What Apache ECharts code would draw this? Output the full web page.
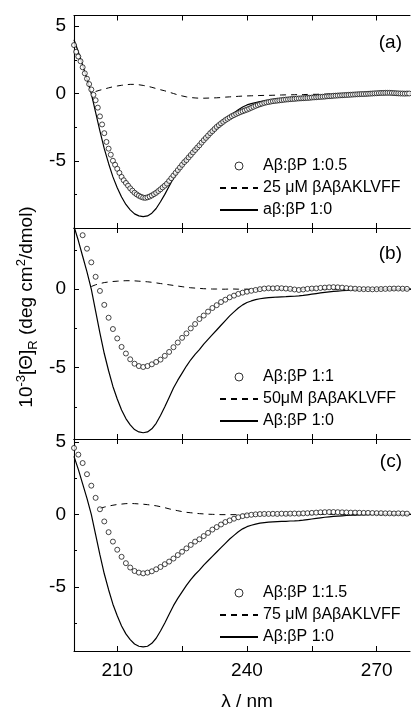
<!DOCTYPE html>
<html><head><meta charset="utf-8">
<script src="https://cdn.jsdelivr.net/npm/echarts@6/dist/echarts.min.js"></script>
<style>html,body{margin:0;padding:0;background:#fff}#c{width:411px;height:710px}</style>
</head><body><div id="c"></div>
<script>
const FONT = '"Liberation Sans", Arial, Helvetica, sans-serif';

// ---------- data ----------
// Panel (a) open circles, 0.5 nm steps starting 200 nm
const circlesAStart = 200, circlesAStep = 0.5;
const circlesA = [3.6,3.1,2.75,2.4,1.95,1.5,1.1,0.7,0.3,-0.1,
 -0.5,-1.05,-1.7,-2.3,-2.95,-3.6,-4.1,-4.55,-5.0,-5.3,
 -5.6,-5.9,-6.2,-6.45,-6.65,-6.85,-7.05,-7.22,-7.38,-7.5,
 -7.6,-7.68,-7.74,-7.76,-7.72,-7.66,-7.58,-7.48,-7.38,-7.25,
 -7.12,-6.98,-6.85,-6.7,-6.5,-6.3,-6.1,-5.9,-5.7,-5.5,
 -5.3,-5.1,-4.95,-4.75,-4.57,-4.38,-4.2,-4.02,-3.85,-3.65,
 -3.47,-3.3,-3.13,-2.95,-2.8,-2.64,-2.48,-2.35,-2.22,-2.1,
 -1.98,-1.88,-1.78,-1.68,-1.6,-1.52,-1.45,-1.38,-1.32,-1.26,
 -1.2,-1.13,-1.06,-0.99,-0.92,-0.86,-0.8,-0.75,-0.7,-0.66,
 -0.63,-0.6,-0.57,-0.55,-0.53,-0.51,-0.49,-0.47,-0.45,-0.44,
 -0.42,-0.41,-0.4,-0.38,-0.37,-0.36,-0.35,-0.34,-0.33,-0.32,
 -0.3,-0.29,-0.28,-0.26,-0.25,-0.24,-0.23,-0.21,-0.2,-0.19,
 -0.17,-0.16,-0.15,-0.14,-0.13,-0.12,-0.11,-0.1,-0.09,-0.08,
 -0.07,-0.06,-0.05,-0.04,-0.04,-0.03,-0.02,-0.01,0,0.01,
 0.02,0.03,0.04,0.04,0.05,0.05,0.05,0.04,0.03,0.02,
 0.01,0,0,-0.01,0,0];

// A-beta alone (solid line), 1 nm steps from 200 nm
const abetaStart = 200;
const abetaAlone = [4.0,3.1,2.1,1.1,0.0,-1.4,-2.8,-4.1,-5.2,-6.2,
 -7.0,-7.7,-8.25,-8.65,-8.95,-9.1,-9.15,-9.1,-8.9,-8.55,
 -8.05,-7.5,-6.9,-6.3,-5.8,-5.35,-4.9,-4.5,-4.15,-3.85,
 -3.5,-3.2,-2.9,-2.6,-2.3,-2.0,-1.7,-1.45,-1.2,-1.0,
 -0.85,-0.75,-0.67,-0.61,-0.57,-0.54,-0.52,-0.5,-0.49,-0.48,
 -0.46,-0.45,-0.43,-0.4,-0.36,-0.32,-0.28,-0.24,-0.2,-0.17,
 -0.14,-0.12,-0.1,-0.08,-0.06,-0.05,-0.04,-0.03,-0.02,-0.01,
 0,0,0.01,0.01,0,0,0,0,0];

// dashed beta-peptide alone curves
const dashedAStart = 205;
const dashedA = [0.15,0.25,0.33,0.42,0.5,0.56,0.61,0.65,0.68,0.68,
 0.65,0.6,0.54,0.46,0.37,0.28,0.2,0.1,0.0,-0.1,
 -0.18,-0.25,-0.3,-0.33,-0.35,-0.35,-0.34,-0.33,-0.32,-0.3,
 -0.27,-0.25,-0.23,-0.21,-0.19,-0.18,-0.17,-0.16,-0.15,-0.14,
 -0.14,-0.13,-0.12,-0.11,-0.1,-0.1,-0.09,-0.08,-0.08,-0.07,
 -0.06,-0.06,-0.05,-0.05,-0.04,-0.04,-0.03,-0.03,-0.02,-0.02,
 -0.01,-0.01,0,0,0,0.01,0.01,0.01,0,0,0,0,0,0];

const circlesBStart = 201;
const circlesB = [3.95,3.44,2.58,1.71,0.79,-0.11,-1.0,-1.82,-2.54,-3.14,
 -3.68,-4.1,-4.47,-4.75,-4.9,-4.96,-4.9,-4.79,-4.64,-4.49,
 -4.25,-4.0,-3.7,-3.4,-3.1,-2.82,-2.5,-2.22,-1.9,-1.68,
 -1.43,-1.2,-1.02,-0.82,-0.67,-0.52,-0.41,-0.3,-0.22,-0.16,
 -0.1,-0.05,0,0.04,0.06,0.05,0.07,0.06,0.04,0.02,
 -0.02,-0.05,-0.02,0.02,0.04,0.05,0.08,0.1,0.12,0.13,
 0.12,0.1,0.07,0.05,0.03,0.01,0,0,-0.01,0,
 0.01,0.02,0.03,0.04,0.04,0.03,0.02];

const dashedBStart = 204;
const dashedB = [0.17,0.28,0.36,0.42,0.46,0.49,0.51,0.53,0.54,0.54,
 0.53,0.51,0.49,0.47,0.44,0.4,0.36,0.32,0.28,0.24,
 0.2,0.16,0.12,0.09,0.07,0.05,0.03,0.02,0.01,0.01,
 0,0,0.01,0.01,0,0,0,-0.01,0,0,
 0,0,0,0,0,0,0,0,0,0,
 0,0,0,0,0,0,0,0,0,0,
 0,0,0,0,0,0,0,0,0,0,
 0,0,0,0,0];

const circlesCStart = 200;
const circlesC = [4.58,4.12,3.54,2.77,1.98,1.14,0.35,-0.49,-1.23,-1.88,
 -2.44,-2.93,-3.37,-3.67,-3.91,-4.02,-4.07,-4.02,-3.93,-3.79,
 -3.63,-3.44,-3.26,-3.05,-2.81,-2.58,-2.35,-2.11,-1.88,-1.72,
 -1.5,-1.28,-1.05,-0.88,-0.7,-0.53,-0.42,-0.3,-0.2,-0.12,
 -0.07,-0.03,0,0.02,0.03,0.03,0.04,0.03,0.05,0.04,
 0.05,0.06,0.05,0.07,0.08,0.1,0.12,0.14,0.15,0.16,
 0.16,0.15,0.14,0.13,0.12,0.12,0.11,0.1,0.1,0.09,
 0.08,0.08,0.07,0.07,0.06,0.07,0.06,0.05];

const dashedCStart = 206;
const dashedC = [0.4,0.5,0.57,0.63,0.68,0.71,0.74,0.75,0.74,0.72,
 0.7,0.67,0.63,0.59,0.53,0.46,0.38,0.31,0.25,0.19,
 0.14,0.11,0.08,0.05,0.03,0.01,0,-0.01,-0.02,-0.02,
 -0.02,-0.02,-0.02,-0.01,-0.01,0,0,0,0,0,
 0,0,0,0,0,0,0,0,0,0,
 0,0,0,0,0,0,0,0,0,0,
 0,0,0,0,0,0,0,0,0,0,
 0,0,0];

// names / labels
const legendA = ['Aβ:βP 1:0.5', '25 μM βAβAKLVFF', 'aβ:βP 1:0'];
const legendB = ['Aβ:βP 1:1', '50μM βAβAKLVFF', 'Aβ:βP 1:0'];
const legendC = ['Aβ:βP 1:1.5', '75 μM βAβAKLVFF', 'Aβ:βP 1:0'];
const panelLabels = ['(a)', '(b)', '(c)'];
const xTicks = [210, 225, 240, 255, 270];
const xTickLabels = [210, 240, 270];
const yMajorTicks = [-10, -5, 0, 5];
const yMinorTicks = [-7.5, -2.5, 2.5];
const yTickLabelsA = [-5, 0, 5];
const yTickLabelsB = [-5, 0];
const yTickLabelsC = [-5, 0, 5];
const yRanges = [[-10, 5.8], [-9.55, 3.9], [-9.43, 5.2]];
const xRange = [200, 277.7];

// ---------- build ----------
function pairs(start, step, arr) { return arr.map((v, i) => [start + i * step, v]); }

const grids = [
  { left: 74, width: 336, top: 15.5, height: 212.5 },
  { left: 74, width: 336, top: 228, height: 211 },
  { left: 74, width: 336, top: 439, height: 212 }
];

const axisLineStyle = { color: '#000', width: 1.1 };
const xAxes = [], yAxes = [];
const yLabelSets = [yTickLabelsA, yTickLabelsB, yTickLabelsC];
for (let g = 0; g < 3; g++) {
  xAxes.push({
    type: 'value', gridIndex: g, min: xRange[0], max: xRange[1], position: 'bottom',
    axisLine: { show: true, onZero: false, lineStyle: axisLineStyle },
    axisTick: { show: true, inside: true, length: 5, customValues: xTicks, lineStyle: { color: '#000' } },
    axisLabel: { show: g === 2, customValues: xTickLabels, fontSize: 19, fontFamily: FONT, color: '#000', margin: 10 },
    splitLine: { show: false }
  });
  xAxes.push({
    type: 'value', gridIndex: g, min: xRange[0], max: xRange[1], position: 'top',
    axisLine: { show: true, onZero: false, lineStyle: axisLineStyle },
    axisTick: { show: true, inside: true, length: 5, customValues: xTicks, lineStyle: { color: '#000' } },
    axisLabel: { show: false }, splitLine: { show: false }
  });
  yAxes.push({
    type: 'value', gridIndex: g, min: yRanges[g][0], max: yRanges[g][1], position: 'left',
    axisLine: { show: true, onZero: false, lineStyle: axisLineStyle },
    axisTick: { show: true, inside: true, length: 5, customValues: yMajorTicks, lineStyle: { color: '#000' } },
    axisLabel: { show: true, customValues: yLabelSets[g], fontSize: 19, fontFamily: FONT, color: '#000', margin: 8 },
    splitLine: { show: false }
  });
  yAxes.push({
    type: 'value', gridIndex: g, min: yRanges[g][0], max: yRanges[g][1], position: 'left',
    axisLine: { show: false },
    axisTick: { show: true, inside: true, length: 3, customValues: yMinorTicks, lineStyle: { color: '#000' } },
    axisLabel: { show: false }, splitLine: { show: false }
  });
}

const panelData = [
  { circles: pairs(circlesAStart, circlesAStep, circlesA), dashed: pairs(dashedAStart, 1, dashedA), names: legendA },
  { circles: pairs(circlesBStart, 1, circlesB), dashed: pairs(dashedBStart, 1, dashedB), names: legendB },
  { circles: pairs(circlesCStart, 1, circlesC), dashed: pairs(dashedCStart, 1, dashedC), names: legendC }
];
const solid = pairs(abetaStart, 1, abetaAlone);

const hiddenSym = { color: 'rgba(0,0,0,0)', borderWidth: 0, opacity: 0 };
const series = [];
panelData.forEach((p, g) => {
  series.push({
    name: p.names[2], type: 'line', xAxisIndex: g * 2, yAxisIndex: g * 2, data: solid,
    symbol: 'none', showSymbol: false, clip: true, z: 2, color: '#000',
    itemStyle: hiddenSym,
    lineStyle: { color: '#000', width: 1.2, type: 'solid' }
  });
  series.push({
    name: p.names[1], type: 'line', xAxisIndex: g * 2, yAxisIndex: g * 2, data: p.dashed,
    symbol: 'none', showSymbol: false, clip: true, z: 2, color: '#000',
    itemStyle: hiddenSym,
    lineStyle: { color: '#000', width: 1, type: [6, 5] }
  });
  series.push({
    name: p.names[0], type: 'scatter', xAxisIndex: g * 2, yAxisIndex: g * 2, data: p.circles,
    symbol: 'circle', symbolSize: 5, clip: true, z: 3,
    itemStyle: { color: '#fff', borderColor: '#000', borderWidth: 0.9 }
  });
});

const legendTops = [158, 369, 585];
const legends = panelData.map((p, g) => ({
  data: [
    { name: p.names[0], itemStyle: { borderWidth: 1 } },
    { name: p.names[1], itemStyle: { opacity: 0 } },
    { name: p.names[2], itemStyle: { opacity: 0 } }
  ],
  orient: 'vertical', left: 219, top: legendTops[g],
  itemWidth: 38, itemHeight: 8, itemGap: 6, padding: 0, selectedMode: false,
  textStyle: { fontSize: 16, fontFamily: FONT, color: '#000' }
}));

const labelYs = [43, 254, 462];
const graphics = panelLabels.map((t, i) => ({
  type: 'text', x: 402, y: labelYs[i],
  style: { text: t, fontSize: 19, fontFamily: FONT, fill: '#000', align: 'right', verticalAlign: 'middle' }
}));
graphics.push({
  type: 'text', x: 247, y: 702,
  style: { text: 'λ / nm', fontSize: 19, fontFamily: FONT, fill: '#000', align: 'center', verticalAlign: 'middle' }
});
graphics.push({
  type: 'text', x: 27, y: 307, rotation: Math.PI / 2,
  style: {
    text: '{n|10}{sup|-3}{n|[Θ]}{sub|R}{n| (deg cm}{sup|2}{n|/dmol)}',
    align: 'center', verticalAlign: 'middle', fill: '#000',
    rich: {
      n: { fontSize: 19, fontFamily: FONT, lineHeight: 25, verticalAlign: 'middle', fill: '#000' },
      sup: { fontSize: 13, fontFamily: FONT, lineHeight: 13, verticalAlign: 'top', fill: '#000' },
      sub: { fontSize: 13, fontFamily: FONT, lineHeight: 13, verticalAlign: 'bottom', fill: '#000' }
    }
  }
});

const chart = echarts.init(document.getElementById('c'), null, { renderer: 'canvas' });
chart.setOption({
  animation: false,
  backgroundColor: '#fff',
  grid: grids,
  xAxis: xAxes,
  yAxis: yAxes,
  legend: legends,
  series: series,
  graphic: graphics
});
</script></body></html>
